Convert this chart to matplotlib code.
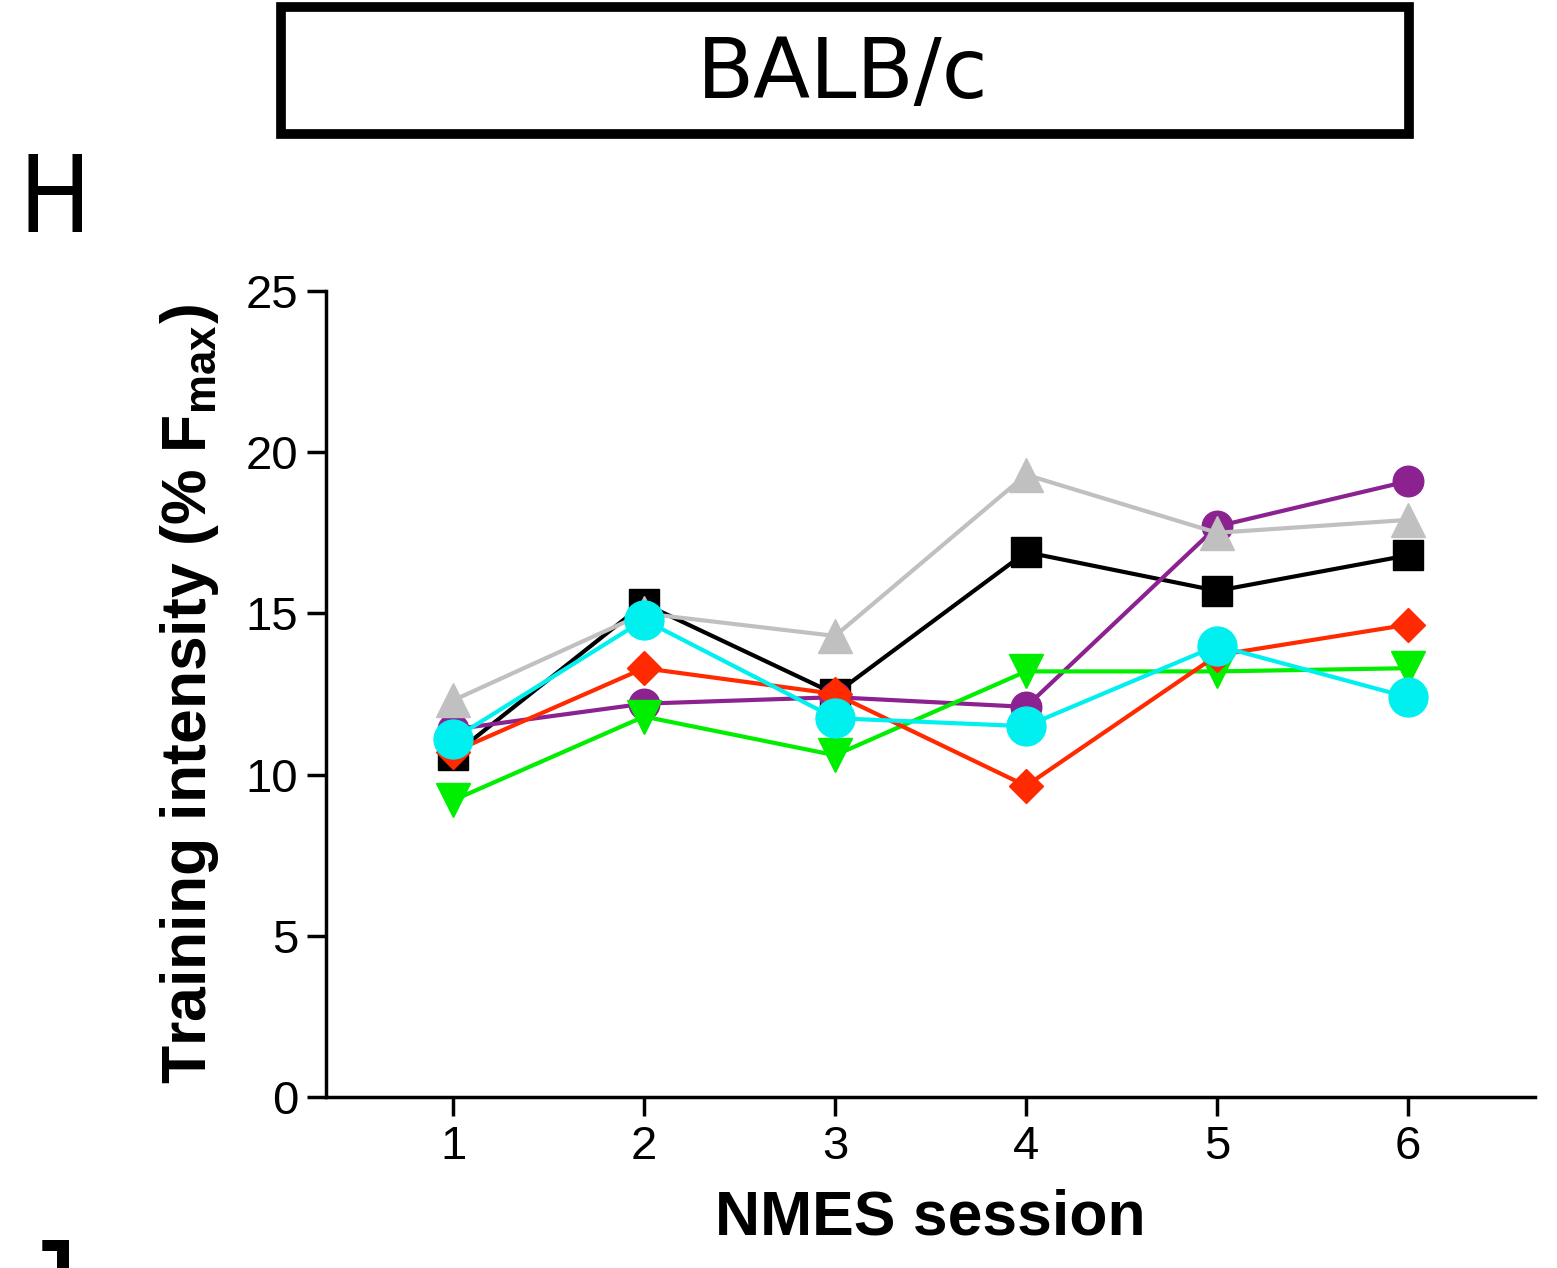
# BALB/c NMES training intensity, panel H
import matplotlib.pyplot as plt
from matplotlib.patches import Rectangle

plt.rcParams['font.family'] = ['Liberation Sans', 'DejaVu Sans']
plt.rcParams['mathtext.fontset'] = 'custom'
plt.rcParams['mathtext.rm'] = 'Liberation Sans:bold'
plt.rcParams['mathtext.bf'] = 'Liberation Sans:bold'

sessions = [1, 2, 3, 4, 5, 6]
black_sq = [10.6, 15.3, 12.5, 16.9, 15.7, 16.8]
purple_ci = [11.4, 12.2, 12.4, 12.1, 17.7, 19.1]
gray_tri = [12.3, 15.0, 14.3, 19.3, 17.5, 17.9]
green_dn = [9.2, 11.8, 10.6, 13.2, 13.2, 13.3]
red_dia = [10.7, 13.3, 12.5, 9.65, 13.7, 14.65]
cyan_ci = [11.1, 14.8, 11.75, 11.5, 14.0, 12.4]

fig = plt.figure(figsize=(15.57, 12.68), dpi=100)
ax = fig.add_axes([0.2094, 0.1349, 0.7765, 0.6356])

ax.plot(sessions, black_sq, color="black", marker="s", markersize=21, lw=3)
ax.plot(sessions, purple_ci, color="#8B2290", marker="o", markersize=22, lw=3)
ax.plot(sessions, gray_tri, color="#C0C0C0", marker="^", markersize=24, lw=3)
ax.plot(sessions, green_dn, color="#00EE00", marker="v", markersize=24, lw=3)
ax.plot(sessions, red_dia, color="#FF2A00", marker="D", markersize=17, lw=3)
ax.plot(sessions, cyan_ci, color="#00F0F0", marker="o", markersize=28, lw=3)

ax.set_xlim(0.335, 6.665)
ax.set_ylim(0, 25)
ax.set_xticks(sessions)
ax.set_yticks([0, 5, 10, 15, 20, 25])
ax.spines['top'].set_visible(False)
ax.spines['right'].set_visible(False)
for s in ['left', 'bottom']:
    ax.spines[s].set_linewidth(2.5)
ax.tick_params(width=2.5, length=14, labelsize=34, pad=6)

ax.set_xlabel("NMES session", fontsize=45, fontweight="bold", labelpad=14)
ax.set_ylabel(r"Training intensity (% F$_\mathrm{max}$)", fontsize=45,
              fontweight="bold", labelpad=18)

# title box
box = Rectangle((0.1805, 0.8945), 0.7245, 0.1, transform=fig.transFigure,
                fill=False, edgecolor="black", linewidth=7)
fig.patches.append(box)
fig.text(0.541, 0.941, "BALB/c", fontsize=60, ha="center", va="center",
         family=["DejaVu Sans"])

fig.text(0.012, 0.84, "H", fontsize=77, ha="left", va="center",
         family=["DejaVu Sans"], fontstretch="condensed")
# top of the next panel's letter, cut by the lower edge
fig.text(0.018, -0.04, "J", fontsize=60, ha="left", va="bottom",
         fontweight="bold", family=["DejaVu Sans Mono"])

fig.savefig("out.png", dpi=100)
